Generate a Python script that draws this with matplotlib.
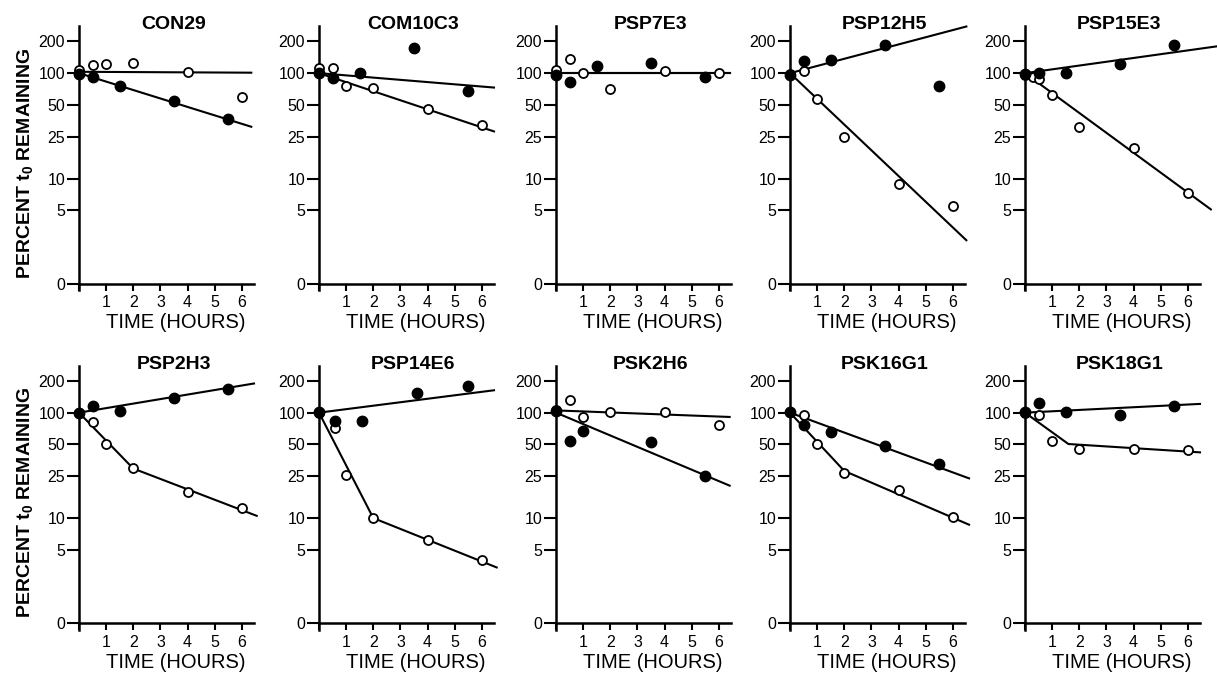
import matplotlib
matplotlib.use('Agg')
import matplotlib.pyplot as plt

plt.rcParams['font.family'] = ['Liberation Sans', 'DejaVu Sans']
plt.rcParams['mathtext.fontset'] = 'custom'
plt.rcParams['mathtext.rm'] = 'Liberation Sans'
plt.rcParams['mathtext.bf'] = 'Liberation Sans:bold'

# sampling times (hours)
t_open = [0, 0.5, 1, 2, 4, 6]
t_filled = [0, 0.5, 1.5, 3.5, 5.5]

# y axis: log scale, the "0" label sits at 1
y_ticks = [1, 5, 10, 25, 50, 100, 200]
y_ticklabels = ['0', '5', '10', '25', '50', '100', '200']
x_ticks = [0, 1, 2, 3, 4, 5, 6]
x_ticklabels = ['', '1', '2', '3', '4', '5', '6']

# percent t0 remaining
# fit lines are [[times], [values]]
con29_open = [107, 120, 121, 126, 102, 60]
con29_filled = [98, 91, 75, 54, 37]
con29_open_fit = [[0, 6.35], [103, 101]]
con29_filled_fit = [[0, 6.35], [100, 31]]

com10c3_open = [111, 112, 76, 72, 46, 32]
com10c3_filled = [100, 89, 101, 175, 68]
com10c3_open_fit = [[0, 6.45], [100, 28]]
com10c3_filled_fit = [[0, 6.45], [100, 73]]

psp7e3_open = [107, 136, 100, 70, 105, 101]
psp7e3_filled = [97, 83, 117, 124, 92]
psp7e3_open_fit = [[0, 6.4], [100, 100]]
psp7e3_filled_fit = [[0, 6.4], [100, 100]]

psp12h5_open = [98, 105, 57, 24.6, 8.9, 5.5]
psp12h5_filled = [97, 129, 133, 183, 75]
psp12h5_open_fit = [[0, 6.5], [100, 2.6]]
psp12h5_filled_fit = [[0, 6.5], [100, 277]]

psp15e3_t_open = [0, 0.3, 0.5, 1, 2, 4, 6]
psp15e3_open = [97, 92, 88, 62, 31, 19.6, 7.3]
psp15e3_filled = [98, 100, 100, 123, 183]
psp15e3_open_fit = [[0, 6.85], [100, 5.1]]
psp15e3_filled_fit = [[0, 7.1], [100, 180]]

psp2h3_open = [99, 81, 50, 29.7, 17.6, 12.5]
psp2h3_filled = [99, 116, 103, 139, 169]
psp2h3_open_fit = [[0, 2, 6.55], [100, 29.5, 10.5]]
psp2h3_filled_fit = [[0, 6.45], [100, 189]]

psp14e6_t_open = [0, 0.6, 1, 2, 4, 6]
psp14e6_t_filled = [0, 0.6, 1.6, 3.6, 5.5]
psp14e6_open = [100, 71, 25.7, 10.0, 6.2, 4.0]
psp14e6_filled = [102, 84, 84, 153, 179]
psp14e6_open_fit = [[0, 2, 6.55], [100, 10, 3.4]]
psp14e6_filled_fit = [[0, 6.45], [100, 163]]

psk2h6_t_filled = [0, 0.5, 1, 3.5, 5.5]
psk2h6_open = [106, 132, 91, 102, 102, 77]
psk2h6_filled = [104, 54, 67, 53, 25]
psk2h6_open_fit = [[0, 6.4], [105, 91]]
psk2h6_filled_fit = [[0, 6.4], [100, 20.3]]

psk16g1_open = [102, 95, 50, 27, 18.3, 10.2]
psk16g1_filled = [101, 76, 65.5, 47.8, 32.4]
psk16g1_open_fit = [[0, 2, 6.6], [100, 28, 8.65]]
psk16g1_filled_fit = [[0, 6.6], [100, 23.8]]

psk18g1_open = [100, 94, 54, 45, 45, 44]
psk18g1_filled = [101, 123, 102, 94, 116]
psk18g1_open_fit = [[0, 1.6, 6.45], [100, 50.4, 42]]
psk18g1_filled_fit = [[0, 6.45], [100, 121]]

panels = [
    ('CON29', t_open, con29_open, t_filled, con29_filled, con29_open_fit, con29_filled_fit),
    ('COM10C3', t_open, com10c3_open, t_filled, com10c3_filled, com10c3_open_fit, com10c3_filled_fit),
    ('PSP7E3', t_open, psp7e3_open, t_filled, psp7e3_filled, psp7e3_open_fit, psp7e3_filled_fit),
    ('PSP12H5', t_open, psp12h5_open, t_filled, psp12h5_filled, psp12h5_open_fit, psp12h5_filled_fit),
    ('PSP15E3', psp15e3_t_open, psp15e3_open, t_filled, psp15e3_filled, psp15e3_open_fit, psp15e3_filled_fit),
    ('PSP2H3', t_open, psp2h3_open, t_filled, psp2h3_filled, psp2h3_open_fit, psp2h3_filled_fit),
    ('PSP14E6', psp14e6_t_open, psp14e6_open, psp14e6_t_filled, psp14e6_filled, psp14e6_open_fit, psp14e6_filled_fit),
    ('PSK2H6', t_open, psk2h6_open, psk2h6_t_filled, psk2h6_filled, psk2h6_open_fit, psk2h6_filled_fit),
    ('PSK16G1', t_open, psk16g1_open, t_filled, psk16g1_filled, psk16g1_open_fit, psk16g1_filled_fit),
    ('PSK18G1', t_open, psk18g1_open, t_filled, psk18g1_filled, psk18g1_open_fit, psk18g1_filled_fit),
]

W, H = 1217, 675
fig = plt.figure(figsize=(W / 100, H / 100), dpi=100)

col_left = [79, 319, 556, 790, 1025]   # pixel of t = 0
row_bottom = [290, 629.5]              # pixel of axes bottom
ax_w, ax_h = 175, 264

for i, (name, to, vo, tf, vf, fo, ff) in enumerate(panels):
    r, c = divmod(i, 5)
    ax = fig.add_axes([col_left[c] / W, (H - row_bottom[r]) / H, ax_w / W, ax_h / H])
    ax.set_yscale('log')
    ax.set_xlim(0, 6.45)
    ax.set_ylim(0.877, 280)

    ax.plot(fo[0], fo[1], color='black', lw=1.5, clip_on=False, zorder=2)
    ax.plot(ff[0], ff[1], color='black', lw=1.5, clip_on=False, zorder=2)
    ax.plot(to, vo, 'o', ms=6.5, mfc='white', mec='black', mew=1.3, clip_on=False, zorder=3)
    ax.plot(tf, vf, 'o', ms=7.5, mfc='black', mec='black', clip_on=False, zorder=4)

    for s in ['top', 'right']:
        ax.spines[s].set_visible(False)
    ax.spines['bottom'].set_position(('data', 1))
    ax.spines['left'].set_linewidth(1.8)
    ax.spines['bottom'].set_linewidth(1.8)

    ax.set_yticks(y_ticks)
    ax.set_yticklabels(y_ticklabels)
    ax.minorticks_off()
    ax.set_xticks(x_ticks)
    ax.set_xticklabels(x_ticklabels)
    ax.tick_params(axis='y', direction='out', length=9, width=1.5, pad=1, labelsize=11.5)
    ax.tick_params(axis='x', direction='out', length=5, width=1.5, pad=3, labelsize=11.5)

    ax.set_xlabel('TIME (HOURS)', fontsize=14.5)
    ax.xaxis.set_label_coords(0.55, -0.088)
    ax.text(0.54, 0.988, name, transform=ax.transAxes, ha='center', va='baseline',
            fontsize=14, fontweight='bold')

for yc in [163, 502]:
    fig.text(25 / W, 1 - yc / H, r'PERCENT $\mathbf{t_0}$ REMAINING', rotation=90,
             ha='center', va='center', fontsize=14, fontweight='bold')

fig.savefig('out.png', dpi=100, facecolor='white')
